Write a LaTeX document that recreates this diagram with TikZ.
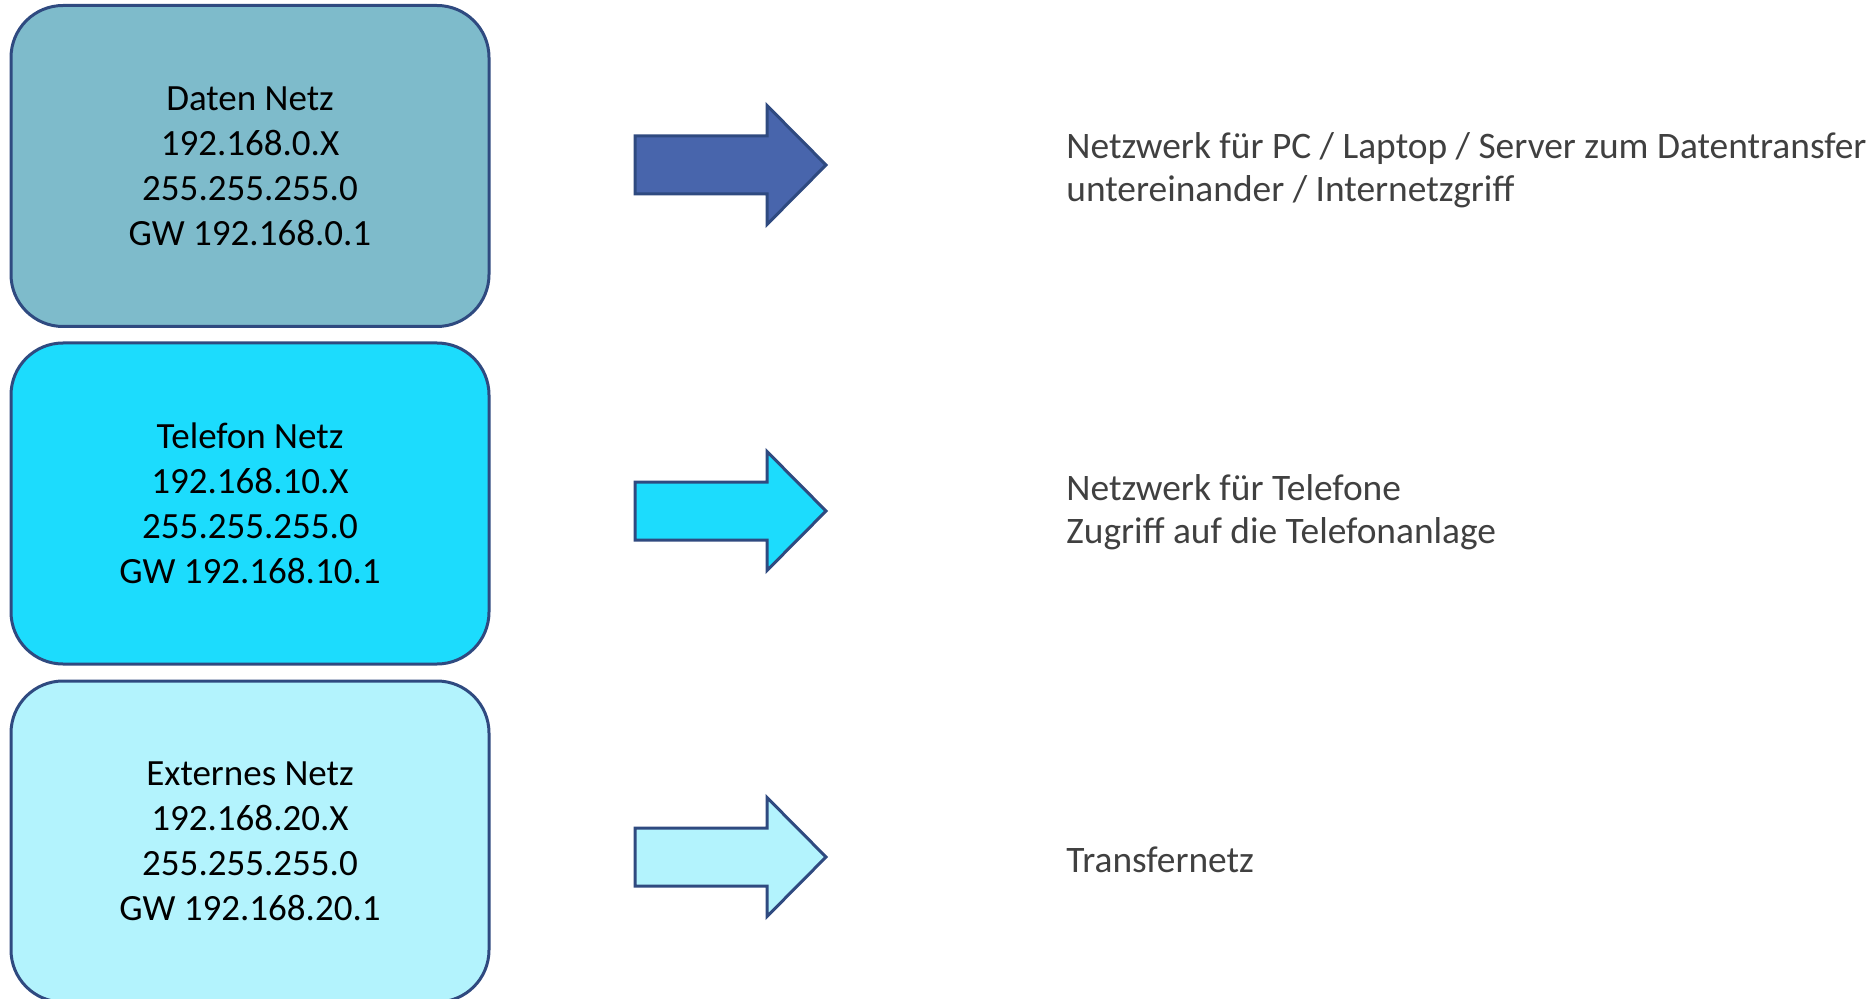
\documentclass[tikz,border=0pt]{standalone}
\usepackage{fontspec}
\setmainfont{Carlito}
\usetikzlibrary{positioning}
\definecolor{netzrand}{HTML}{2F4A80}
\definecolor{datenfill}{HTML}{7EBBCB}
\definecolor{telfill}{HTML}{1CDCFD}
\definecolor{extfill}{HTML}{B3F3FD}
\definecolor{pfeilblau}{HTML}{4865AC}
\definecolor{textgrau}{HTML}{404040}
\tikzset{
  netzbox/.style={draw=netzrand, line width=1.5pt, rounded corners=26pt,
    minimum width=239pt, minimum height=160.5pt, inner sep=0pt,
    align=center, font=\fontsize{18.5}{22.5}\selectfont},
  pfeil/.style={draw=netzrand, line width=1.5pt, line join=miter},
  beschreibung/.style={anchor=west, align=left, inner sep=0pt,
    text=textgrau, font=\fontsize{18.7}{21.5}\selectfont}
}
% block arrow round a centre coordinate
\newcommand{\netzpfeil}[2]{%
  \draw[pfeil, fill=#2] (#1) ++(-95.5,-29) -- ++(132,0) -- ++(0,-30.5)
    -- ++(59,59.5) -- ++(-59,59.5) -- ++(0,-30.5) -- ++(-132,0) -- cycle;}

\begin{document}
\begin{tikzpicture}[x=0.5pt, y=-0.5pt]
  \useasboundingbox (0,0) rectangle (1871,999);
  \clip (0,0) rectangle (1871,999);

  % networks
  \node[netzbox, fill=datenfill] (daten)   at (250,166)
    {Daten Netz\\192.168.0.X\\255.255.255.0\\GW 192.168.0.1};
  \node[netzbox, fill=telfill]   (telefon) at (250,503.5)
    {Telefon Netz\\192.168.10.X\\255.255.255.0\\GW 192.168.10.1};
  \node[netzbox, fill=extfill]   (extern)  at (250,841.5)
    {Externes Netz\\192.168.20.X\\255.255.255.0\\GW 192.168.20.1};

  % arrows
  \coordinate (pdaten)   at (730.5,165);
  \coordinate (ptelefon) at (730.5,511);
  \coordinate (pextern)  at (730.5,857);
  \netzpfeil{pdaten}{pfeilblau}
  \netzpfeil{ptelefon}{telfill}
  \netzpfeil{pextern}{extfill}

  % descriptions
  \node[beschreibung] (tdaten)   at (1066,170)
    {Netzwerk für PC / Laptop / Server zum Datentransfer\\untereinander / Internetzgriff};
  \node[beschreibung] (ttelefon) at (1066,512)
    {Netzwerk für Telefone\\Zugriff auf die Telefonanlage};
  \node[beschreibung] (textern)  at (1066,860) {Transfernetz};
\end{tikzpicture}
\end{document}
